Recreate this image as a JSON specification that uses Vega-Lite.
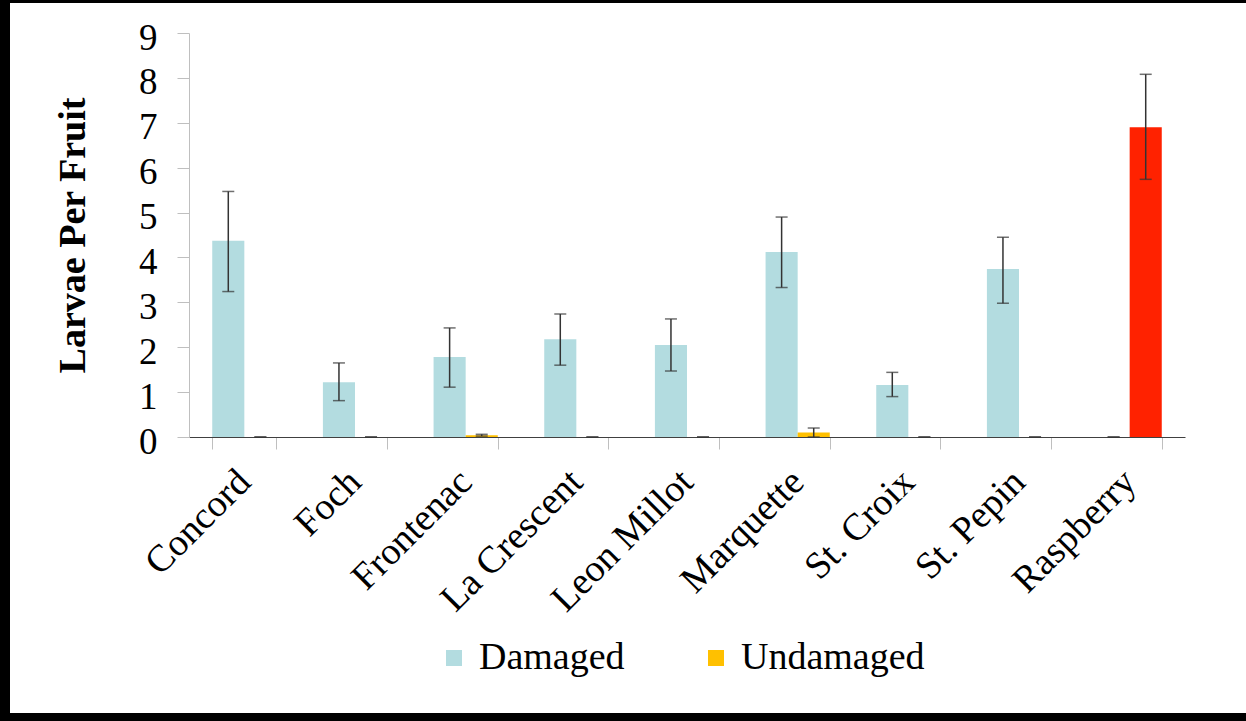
{
  "$schema": "https://vega.github.io/schema/vega-lite/v6.json",
  "width": 1236,
  "height": 710,
  "autosize": {"type": "none"},
  "padding": {"left": 10, "top": 3, "right": 0, "bottom": 8},
  "background": "#000000",
  "config": {"view": {"fill": "#ffffff", "stroke": null}, "font": "Liberation Serif"},
  "data": {
    "values": [
      {"variety": "Concord", "series": "Damaged", "mean": 4.37, "lo": 3.24, "hi": 5.47},
      {"variety": "Concord", "series": "Undamaged", "mean": 0, "lo": 0, "hi": 0},
      {"variety": "Foch", "series": "Damaged", "mean": 1.22, "lo": 0.81, "hi": 1.65},
      {"variety": "Foch", "series": "Undamaged", "mean": 0, "lo": 0, "hi": 0},
      {"variety": "Frontenac", "series": "Damaged", "mean": 1.78, "lo": 1.11, "hi": 2.43},
      {"variety": "Frontenac", "series": "Undamaged", "mean": 0.04, "lo": 0.02, "hi": 0.06},
      {"variety": "La Crescent", "series": "Damaged", "mean": 2.18, "lo": 1.6, "hi": 2.74},
      {"variety": "La Crescent", "series": "Undamaged", "mean": 0, "lo": 0, "hi": 0},
      {"variety": "Leon Millot", "series": "Damaged", "mean": 2.05, "lo": 1.47, "hi": 2.63},
      {"variety": "Leon Millot", "series": "Undamaged", "mean": 0, "lo": 0, "hi": 0},
      {"variety": "Marquette", "series": "Damaged", "mean": 4.12, "lo": 3.33, "hi": 4.9},
      {"variety": "Marquette", "series": "Undamaged", "mean": 0.1, "lo": 0.0, "hi": 0.2},
      {"variety": "St. Croix", "series": "Damaged", "mean": 1.16, "lo": 0.9, "hi": 1.44},
      {"variety": "St. Croix", "series": "Undamaged", "mean": 0, "lo": 0, "hi": 0},
      {"variety": "St. Pepin", "series": "Damaged", "mean": 3.74, "lo": 2.98, "hi": 4.45},
      {"variety": "St. Pepin", "series": "Undamaged", "mean": 0, "lo": 0, "hi": 0},
      {"variety": "Raspberry", "series": "Damaged", "mean": 0, "lo": 0, "hi": 0},
      {"variety": "Raspberry", "series": "Undamaged", "mean": 6.9, "lo": 5.74, "hi": 8.08}
    ]
  },
  "encoding": {
    "x": {
      "field": "variety",
      "type": "nominal",
      "sort": null,
      "scale": {"range": [179, 1175], "paddingInner": 0.42, "paddingOuter": 0.21},
      "axis": {
        "orient": "bottom",
        "offset": -276,
        "title": null,
        "grid": false,
        "tickBand": "extent",
        "domainColor": "#404040",
        "domainWidth": 1,
        "tickColor": "#bfbfbf",
        "tickSize": 12,
        "labelAngle": -45,
        "labelAlign": "right",
        "labelBaseline": "middle",
        "labelFontSize": 38,
        "labelColor": "#000000",
        "labelPadding": 27,
        "labelLimit": 400
      }
    },
    "xOffset": {"field": "series", "type": "nominal", "sort": ["Damaged", "Undamaged"]}
  },
  "layer": [
    {
      "mark": {"type": "bar"},
      "encoding": {
        "y": {
          "field": "mean",
          "type": "quantitative",
          "scale": {"domain": [0, 9], "range": [434, 30], "nice": false, "zero": true},
          "axis": {
            "orient": "left",
            "offset": -179,
            "values": [0, 1, 2, 3, 4, 5, 6, 7, 8, 9],
            "format": "d",
            "grid": false,
            "domainColor": "#bfbfbf",
            "tickColor": "#bfbfbf",
            "tickSize": 12,
            "labelFontSize": 37,
            "labelColor": "#000000",
            "labelPadding": 20,
            "labelOffset": 5,
            "title": "Larvae Per Fruit",
            "titleFontSize": 38,
            "titleFontWeight": "bold",
            "titleColor": "#000000",
            "titlePadding": 46
          }
        },
        "color": {
          "condition": {"test": "datum.variety === 'Raspberry'", "value": "#ff2200"},
          "field": "series",
          "type": "nominal",
          "scale": {"domain": ["Damaged", "Undamaged"], "range": ["#b3dce0", "#ffc000"]},
          "legend": {
            "orient": "none",
            "legendX": 425,
            "legendY": 636,
            "direction": "horizontal",
            "title": null,
            "symbolType": "square",
            "symbolSize": 256,
            "labelFontSize": 38,
            "labelColor": "#000000",
            "labelOffset": 6,
            "labelLimit": 400,
            "columnPadding": 72,
            "padding": 0
          }
        }
      }
    },
    {
      "mark": {"type": "rule", "color": "#333333", "strokeWidth": 1.5},
      "encoding": {
        "y": {"field": "lo", "type": "quantitative"},
        "y2": {"field": "hi"}
      }
    },
    {
      "mark": {"type": "tick", "color": "#333333", "size": 12, "thickness": 1.5, "orient": "horizontal"},
      "encoding": {"y": {"field": "hi", "type": "quantitative"}}
    },
    {
      "mark": {"type": "tick", "color": "#333333", "size": 12, "thickness": 1.5, "orient": "horizontal"},
      "encoding": {"y": {"field": "lo", "type": "quantitative"}}
    }
  ]
}
